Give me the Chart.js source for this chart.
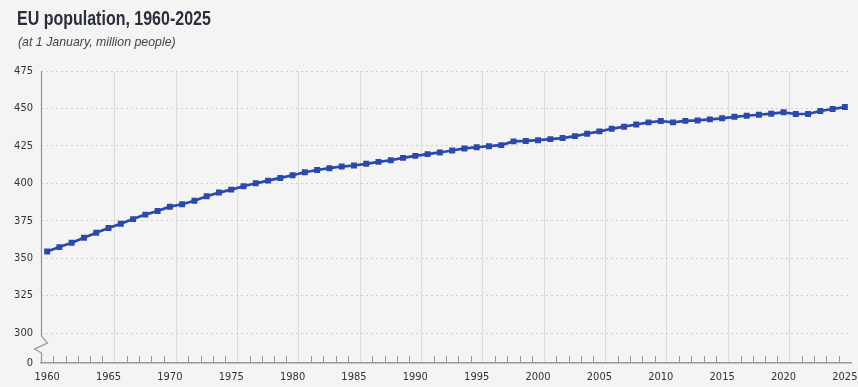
<!DOCTYPE html>
<html>
<head>
<meta charset="utf-8">
<script src="https://cdn.jsdelivr.net/npm/chart.js@4/dist/chart.umd.min.js"></script>
<style>
  html, body { margin: 0; padding: 0; background: #f4f4f4; }
  #wrap { width: 858px; height: 387px; position: relative; }
  #pop-chart { position: absolute; left: 0; top: 0; }
  .title {
    position: absolute; left: 17px; top: 6px; margin: 0;
    font: bold 20px/24px "Liberation Sans", Arial, sans-serif;
    color: #2b2f3a; white-space: nowrap;
    transform: scaleX(0.8); transform-origin: 0 0;
  }
  .subtitle {
    position: absolute; left: 18px; top: 34px; margin: 0;
    font: italic 13px/16px "Liberation Sans", Arial, sans-serif;
    color: #444; white-space: nowrap;
    transform: scaleX(0.95); transform-origin: 0 0;
  }
</style>
</head>
<body>
<div id="wrap">
  <canvas id="pop-chart"></canvas>
  <div class="title">EU population, 1960-2025</div>
  <div class="subtitle">(at 1 January, million people)</div>
</div>
<script>
// years shown on the x axis
var years = ['1960','1961','1962','1963','1964','1965','1966','1967','1968','1969',
             '1970','1971','1972','1973','1974','1975','1976','1977','1978','1979',
             '1980','1981','1982','1983','1984','1985','1986','1987','1988','1989',
             '1990','1991','1992','1993','1994','1995','1996','1997','1998','1999',
             '2000','2001','2002','2003','2004','2005','2006','2007','2008','2009',
             '2010','2011','2012','2013','2014','2015','2016','2017','2018','2019',
             '2020','2021','2022','2023','2024','2025'];

// EU population at 1 January, million people
var population = [354.5, 357.4, 360.3, 363.7, 367.0, 370.1, 373.0, 376.1, 379.1, 381.5,
                  384.4, 386.0, 388.4, 391.4, 393.8, 395.8, 398.0, 400.0, 401.8, 403.6,
                  405.4, 407.4, 408.9, 410.1, 411.2, 411.9, 413.0, 414.3, 415.4, 417.0,
                  418.3, 419.5, 420.6, 421.9, 423.3, 424.1, 424.8, 425.5, 428.0, 428.3,
                  428.8, 429.5, 430.2, 431.5, 433.1, 434.7, 436.4, 437.8, 439.3, 440.7,
                  441.6, 440.7, 441.7, 442.0, 442.7, 443.4, 444.4, 445.1, 445.8, 446.5,
                  447.4, 446.3, 446.3, 448.3, 449.6, 450.9];

var xTickLabels = ['1960','1965','1970','1975','1980','1985','1990','1995',
                   '2000','2005','2010','2015','2020','2025'];

// the axis is broken below 300: value 280 stands for the "0" line
var yTicks = [280, 300, 325, 350, 375, 400, 425, 450, 475];
var yTickLabels = ['0', '300', '325', '350', '375', '400', '425', '450', '475'];

var condensed = '"DejaVu Sans Condensed", "Liberation Sans", sans-serif';

function isMajorBoundary(i) {
    return i > 1 && i % 5 === 1 && i < years.length;
}

// small tick marks between years, the y axis line and its break
var axisDecor = {
    id: 'axisDecor',
    afterDraw: function(chart) {
        var ctx = chart.ctx;
        var xs = chart.scales.x;
        var ys = chart.scales.y;
        var area = chart.chartArea;
        ctx.save();
        ctx.strokeStyle = '#9a9a9a';
        ctx.lineWidth = 1;
        for (var i = 1; i < years.length; i++) {
            if (isMajorBoundary(i)) continue;
            var bx = Math.round((xs.getPixelForTick(i - 1) + xs.getPixelForTick(i)) / 2) + 0.5;
            ctx.beginPath();
            ctx.moveTo(bx, area.bottom);
            ctx.lineTo(bx, area.bottom - 7);
            ctx.stroke();
        }
        var x0 = area.left + 0.5;
        var y300 = ys.getPixelForValue(300);
        ctx.lineWidth = 1.3;
        ctx.beginPath();
        ctx.moveTo(x0, area.top);
        ctx.lineTo(x0, y300 + 3);
        ctx.lineTo(x0 + 6, y300 + 10);
        ctx.lineTo(x0 - 7, y300 + 16);
        ctx.lineTo(x0, y300 + 20);
        ctx.lineTo(x0, area.bottom);
        ctx.stroke();
        ctx.restore();
    }
};

new Chart(document.getElementById('pop-chart'), {
    type: 'line',
    data: {
        labels: years,
        datasets: [{
            label: 'EU population',
            data: population,
            borderColor: '#2b48ad',
            backgroundColor: '#2b48ad',
            borderWidth: 2.7,
            pointStyle: 'rect',
            pointRadius: 4.2,
            pointBorderWidth: 0,
            tension: 0
        }]
    },
    options: {
        responsive: true,
        maintainAspectRatio: false,
        animation: false,
        layout: { padding: { left: 0, right: 7, top: 71, bottom: 4 } },
        plugins: {
            legend: { display: false },
            tooltip: { enabled: false }
        },
        scales: {
            x: {
                offset: true,
                grid: {
                    offset: true,
                    drawTicks: false,
                    lineWidth: 1,
                    color: function(c) { return isMajorBoundary(c.index) ? '#dcdcdc' : 'rgba(0,0,0,0)'; }
                },
                border: { display: true, color: '#9a9a9a', width: 1.5 },
                ticks: {
                    autoSkip: false,
                    maxRotation: 0,
                    padding: 8,
                    color: '#333',
                    font: { family: condensed, size: 11 },
                    callback: function(v, i) {
                        var y = years[i];
                        return xTickLabels.indexOf(y) >= 0 ? y : '';
                    }
                },
                afterFit: function(s) { s.height = 20; s.paddingLeft = 0; s.paddingRight = 0; }
            },
            y: {
                min: 280,
                max: 475,
                afterBuildTicks: function(s) {
                    s.ticks = yTicks.map(function(v) { return { value: v }; });
                },
                grid: {
                    drawTicks: false,
                    color: function(c) { return c.tick && c.tick.value === 280 ? 'rgba(0,0,0,0)' : '#cfcfcf'; }
                },
                border: { display: false, dash: [2, 3] },
                ticks: {
                    padding: 8,
                    color: '#333',
                    font: { family: condensed, size: 11 },
                    callback: function(v) {
                        var k = yTicks.indexOf(v);
                        return k >= 0 ? yTickLabels[k] : '';
                    }
                },
                afterFit: function(s) { s.width = 41; s.paddingTop = 0; s.paddingBottom = 0; }
            }
        }
    },
    plugins: [axisDecor]
});
</script>
</body>
</html>
